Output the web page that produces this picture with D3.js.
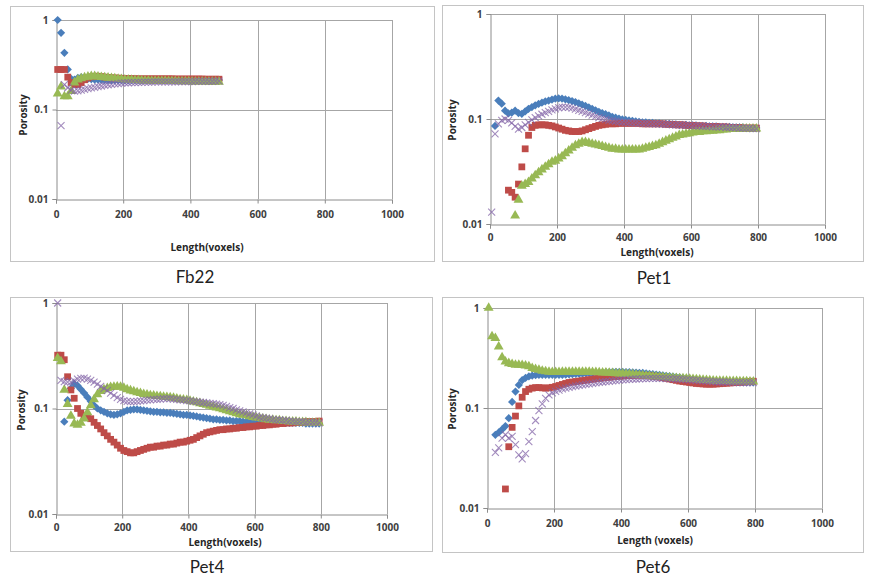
<!DOCTYPE html>
<html lang="en">
<head>
<meta charset="UTF-8">
<title>Porosity vs Length</title>
<style>
    body { margin: 0; background: #fff; font-family: "Open Sans", Arial, sans-serif; }
    .tick text { font-size: 10px; font-weight: bold; fill: #404040; font-family: "Open Sans", Arial, sans-serif; }
    .axis-title { font-size: 10px; font-weight: bold; fill: #262626; }
    .panel-title { font-size: 17px; fill: #222; font-family: Lato, "Open Sans", sans-serif; }
</style>
</head>
<body>
<svg id="chart" width="871" height="581"></svg>
<script src="https://d3js.org/d3.v7.min.js"></script>
<script>
// ---- data ----
var xTicks = [0, 200, 400, 600, 800, 1000];
var yTicks = [0.01, 0.1, 1];

var lengths = [5, 15, 25, 35, 45, 55, 65, 75, 85, 95,
    105, 115, 125, 135, 145, 155, 165, 175, 185, 195,
    205, 215, 225, 235, 245, 255, 265, 275, 285, 295,
    305, 315, 325, 335, 345, 355, 365, 375, 385, 395,
    405, 415, 425, 435, 445, 455, 465, 475, 485, 495,
    505, 515, 525, 535, 545, 555, 565, 575, 585, 595,
    605, 615, 625, 635, 645, 655, 665, 675, 685, 695,
    705, 715, 725, 735, 745, 755, 765, 775, 785, 795];
var lengthsFb22 = lengths.slice(0, 49);

// Fb22
var fb22S1 = [1.0, 0.72, 0.43, 0.28, 0.22, 0.215, 0.225, 0.23, 0.225, 0.22,
    0.218, 0.216, 0.215, 0.214, 0.213, 0.213, 0.212, 0.212, 0.212, 0.212,
    0.212, 0.212, 0.213, 0.213, 0.213, 0.213, 0.213, 0.213, 0.213, 0.213,
    0.213, 0.213, 0.213, 0.213, 0.213, 0.213, 0.213, 0.213, 0.213, 0.213,
    0.213, 0.213, 0.213, 0.213, 0.213, 0.213, 0.213, 0.213, 0.213];
var fb22S2 = [0.28, 0.28, 0.28, 0.23, 0.2, 0.19, 0.19, 0.2, 0.215, 0.225,
    0.232, 0.235, 0.235, 0.233, 0.23, 0.228, 0.226, 0.225, 0.224, 0.223,
    0.222, 0.222, 0.221, 0.221, 0.22, 0.22, 0.22, 0.22, 0.22, 0.22,
    0.22, 0.22, 0.22, 0.22, 0.22, 0.219, 0.219, 0.219, 0.219, 0.219,
    0.219, 0.219, 0.219, 0.219, 0.218, 0.218, 0.218, 0.218, 0.218];
var fb22S3 = [0.15, 0.18, 0.14, 0.14, 0.16, 0.2, 0.215, 0.222, 0.228, 0.232,
    0.235, 0.235, 0.233, 0.23, 0.228, 0.226, 0.224, 0.222, 0.22, 0.218,
    0.216, 0.215, 0.214, 0.213, 0.212, 0.211, 0.21, 0.21, 0.209, 0.209,
    0.208, 0.208, 0.208, 0.207, 0.207, 0.207, 0.206, 0.206, 0.206, 0.206,
    0.205, 0.205, 0.205, 0.205, 0.205, 0.204, 0.204, 0.204, 0.204];
var fb22S4 = [null, 0.066, 0.19, 0.175, 0.165, 0.16, 0.162, 0.165, 0.168, 0.171,
    0.174, 0.177, 0.18, 0.183, 0.186, 0.189, 0.191, 0.193, 0.195, 0.197,
    0.198, 0.199, 0.2, 0.2, 0.201, 0.201, 0.202, 0.202, 0.202, 0.203,
    0.203, 0.203, 0.204, 0.204, 0.204, 0.204, 0.205, 0.205, 0.205, 0.205,
    0.205, 0.206, 0.206, 0.206, 0.206, 0.206, 0.206, 0.207, 0.207];

// Pet1
var pet1S1 = [null, 0.086, 0.15, 0.14, 0.12, 0.113, 0.115, 0.12, 0.114, 0.112,
    0.118, 0.125, 0.13, 0.135, 0.139, 0.143, 0.147, 0.15, 0.153, 0.156,
    0.157, 0.156, 0.154, 0.151, 0.148, 0.145, 0.141, 0.137, 0.133, 0.129,
    0.125, 0.121, 0.117, 0.114, 0.111, 0.108, 0.105, 0.103, 0.101, 0.099,
    0.098, 0.097, 0.096, 0.095, 0.094, 0.093, 0.093, 0.092, 0.092, 0.091,
    0.091, 0.09, 0.09, 0.09, 0.089, 0.089, 0.088, 0.088, 0.088, 0.087,
    0.087, 0.087, 0.086, 0.086, 0.086, 0.085, 0.085, 0.085, 0.084, 0.084,
    0.084, 0.084, 0.083, 0.083, 0.083, 0.083, 0.082, 0.082, 0.082, 0.082];
var pet1S2 = [null, null, null, null, null, 0.021, 0.02, 0.018, 0.024, 0.035,
    0.052, 0.07, 0.083, 0.087, 0.088, 0.088, 0.088, 0.087, 0.086, 0.084,
    0.082, 0.08, 0.078, 0.077, 0.076, 0.076, 0.076, 0.077, 0.079, 0.081,
    0.083, 0.085, 0.087, 0.088, 0.089, 0.09, 0.09, 0.09, 0.091, 0.091,
    0.091, 0.091, 0.091, 0.091, 0.091, 0.09, 0.09, 0.09, 0.09, 0.09,
    0.09, 0.09, 0.089, 0.089, 0.089, 0.088, 0.088, 0.088, 0.087, 0.087,
    0.087, 0.086, 0.086, 0.086, 0.085, 0.085, 0.085, 0.085, 0.084, 0.084,
    0.084, 0.083, 0.083, 0.083, 0.083, 0.082, 0.082, 0.082, 0.082, 0.082];
var pet1S3 = [null, null, null, null, null, null, null, 0.012, 0.017, 0.023,
    0.024, 0.025, 0.027, 0.029, 0.031, 0.033, 0.035, 0.037, 0.039, 0.04,
    0.042, 0.044, 0.047, 0.05, 0.053, 0.056, 0.058, 0.06, 0.06, 0.059,
    0.058, 0.057, 0.056, 0.055, 0.054, 0.053, 0.052, 0.052, 0.051, 0.051,
    0.051, 0.051, 0.051, 0.051, 0.051, 0.052, 0.053, 0.054, 0.055, 0.056,
    0.058, 0.06, 0.062, 0.064, 0.066, 0.068, 0.07, 0.071, 0.072, 0.073,
    0.074, 0.075, 0.075, 0.076, 0.076, 0.077, 0.077, 0.078, 0.078, 0.079,
    0.079, 0.08, 0.08, 0.08, 0.08, 0.081, 0.081, 0.081, 0.081, 0.081];
var pet1S4 = [0.013, 0.072, 0.09, 0.097, 0.1, 0.097, 0.092, 0.085, 0.08, 0.083,
    0.088, 0.093, 0.098, 0.103, 0.107, 0.111, 0.115, 0.118, 0.122, 0.125,
    0.128, 0.13, 0.13, 0.129, 0.127, 0.124, 0.121, 0.118, 0.115, 0.112,
    0.109, 0.106, 0.103, 0.101, 0.099, 0.097, 0.096, 0.095, 0.094, 0.093,
    0.093, 0.092, 0.092, 0.092, 0.091, 0.091, 0.091, 0.09, 0.09, 0.09,
    0.09, 0.089, 0.089, 0.089, 0.088, 0.088, 0.088, 0.087, 0.087, 0.087,
    0.086, 0.086, 0.086, 0.085, 0.085, 0.085, 0.084, 0.084, 0.084, 0.084,
    0.083, 0.083, 0.083, 0.083, 0.082, 0.082, 0.082, 0.082, 0.081, 0.081];

// Pet4
var pet4S1 = [null, null, 0.075, 0.12, 0.155, 0.172, 0.165, 0.152, 0.14, 0.128,
    0.117, 0.107, 0.1, 0.096, 0.093, 0.09, 0.088, 0.087, 0.088, 0.09,
    0.093, 0.096, 0.097, 0.098, 0.098, 0.097, 0.096, 0.095, 0.094, 0.093,
    0.093, 0.092, 0.092, 0.091, 0.091, 0.09, 0.089, 0.088, 0.087, 0.087,
    0.086, 0.085, 0.084, 0.083, 0.082, 0.081, 0.08, 0.079, 0.079, 0.078,
    0.078, 0.077, 0.077, 0.076, 0.076, 0.076, 0.075, 0.075, 0.075, 0.075,
    0.074, 0.074, 0.074, 0.074, 0.074, 0.074, 0.073, 0.073, 0.073, 0.073,
    0.073, 0.073, 0.073, 0.073, 0.073, 0.072, 0.072, 0.072, 0.072, 0.072];
var pet4S2 = [0.32, 0.32, 0.29, 0.2, 0.15, 0.125, 0.1, 0.09, 0.085, 0.083,
    0.08, 0.074, 0.069, 0.064, 0.059, 0.055, 0.051, 0.048, 0.045, 0.042,
    0.04, 0.039, 0.038, 0.038, 0.039, 0.04, 0.041, 0.042, 0.043, 0.043,
    0.044, 0.044, 0.045, 0.045, 0.046, 0.046, 0.047, 0.048, 0.048, 0.049,
    0.05, 0.051, 0.053, 0.055, 0.057, 0.059, 0.06, 0.061, 0.062, 0.063,
    0.063, 0.064, 0.064, 0.065, 0.065, 0.066, 0.066, 0.067, 0.067, 0.068,
    0.068, 0.069, 0.069, 0.07, 0.07, 0.071, 0.071, 0.072, 0.072, 0.073,
    0.073, 0.073, 0.074, 0.074, 0.074, 0.075, 0.075, 0.075, 0.075, 0.076];
var pet4S3 = [0.3, 0.28, 0.15, 0.11, 0.085, 0.072, 0.07, 0.073, 0.08, 0.092,
    0.107, 0.122, 0.136, 0.146, 0.152, 0.156, 0.159, 0.16, 0.161, 0.16,
    0.157, 0.152, 0.148, 0.145, 0.142, 0.14, 0.137, 0.135, 0.133, 0.132,
    0.131, 0.13, 0.129, 0.128, 0.127, 0.126, 0.124, 0.122, 0.121, 0.12,
    0.118, 0.116, 0.114, 0.112, 0.11, 0.108, 0.106, 0.104, 0.102, 0.1,
    0.098, 0.096, 0.094, 0.092, 0.09, 0.088, 0.087, 0.086, 0.084, 0.083,
    0.082, 0.081, 0.08, 0.079, 0.078, 0.078, 0.077, 0.077, 0.076, 0.076,
    0.075, 0.075, 0.075, 0.074, 0.074, 0.074, 0.073, 0.073, 0.073, 0.073];
var pet4S4 = [1.0, 0.185, 0.18, 0.178, 0.178, 0.183, 0.19, 0.193, 0.194, 0.19,
    0.185, 0.178, 0.17, 0.162, 0.155, 0.148, 0.14, 0.133, 0.127, 0.122,
    0.119, 0.117, 0.116, 0.116, 0.117, 0.118, 0.119, 0.12, 0.121, 0.122,
    0.122, 0.123, 0.124, 0.124, 0.124, 0.123, 0.122, 0.121, 0.12, 0.119,
    0.118, 0.117, 0.116, 0.115, 0.114, 0.113, 0.112, 0.111, 0.11, 0.109,
    0.107, 0.105, 0.102, 0.1, 0.097, 0.095, 0.093, 0.091, 0.089, 0.087,
    0.085, 0.083, 0.082, 0.081, 0.08, 0.079, 0.078, 0.078, 0.077, 0.077,
    0.076, 0.076, 0.075, 0.075, 0.075, 0.074, 0.074, 0.074, 0.074, 0.073];

// Pet6
var pet6S1 = [null, null, 0.054, 0.057, 0.061, 0.066, 0.079, 0.115, 0.146, 0.17,
    0.19, 0.2, 0.207, 0.211, 0.213, 0.214, 0.215, 0.215, 0.215, 0.215,
    0.215, 0.215, 0.215, 0.216, 0.217, 0.218, 0.219, 0.22, 0.221, 0.222,
    0.223, 0.224, 0.225, 0.226, 0.227, 0.228, 0.229, 0.23, 0.23, 0.23,
    0.23, 0.229, 0.228, 0.227, 0.226, 0.225, 0.224, 0.222, 0.22, 0.218,
    0.216, 0.214, 0.212, 0.21, 0.208, 0.206, 0.204, 0.202, 0.2, 0.198,
    0.196, 0.194, 0.192, 0.19, 0.188, 0.187, 0.186, 0.185, 0.184, 0.183,
    0.182, 0.182, 0.181, 0.181, 0.18, 0.18, 0.18, 0.18, 0.18, 0.18];
var pet6S2 = [null, null, null, null, null, 0.0155, 0.041, 0.064, 0.083, 0.105,
    0.128, 0.146, 0.154, 0.158, 0.16, 0.16, 0.159, 0.158, 0.159, 0.161,
    0.164, 0.168, 0.172, 0.176, 0.18, 0.182, 0.184, 0.186, 0.188, 0.19,
    0.192, 0.194, 0.196, 0.198, 0.2, 0.201, 0.203, 0.205, 0.206, 0.208,
    0.209, 0.21, 0.211, 0.212, 0.213, 0.213, 0.212, 0.211, 0.21, 0.208,
    0.206, 0.204, 0.201, 0.198, 0.195, 0.192, 0.189, 0.186, 0.184, 0.182,
    0.18, 0.178, 0.176, 0.175, 0.174, 0.173, 0.173, 0.173, 0.174, 0.175,
    0.176, 0.177, 0.178, 0.179, 0.18, 0.181, 0.182, 0.183, 0.184, 0.185];
var pet6S3 = [1.0, 0.52, 0.5, 0.41, 0.32, 0.29, 0.28, 0.275, 0.27, 0.27,
    0.268, 0.265, 0.26, 0.25, 0.245, 0.24, 0.235, 0.232, 0.23, 0.228,
    0.228, 0.228, 0.229, 0.23, 0.23, 0.23, 0.23, 0.23, 0.23, 0.229,
    0.229, 0.228, 0.228, 0.227, 0.226, 0.225, 0.224, 0.223, 0.222, 0.221,
    0.22, 0.219, 0.218, 0.216, 0.215, 0.213, 0.212, 0.21, 0.209, 0.207,
    0.206, 0.205, 0.203, 0.202, 0.201, 0.2, 0.199, 0.198, 0.197, 0.196,
    0.195, 0.194, 0.193, 0.192, 0.191, 0.19, 0.189, 0.188, 0.187, 0.187,
    0.186, 0.186, 0.185, 0.185, 0.185, 0.184, 0.184, 0.184, 0.183, 0.183];
var pet6S4 = [null, null, 0.036, 0.04, 0.05, 0.054, 0.05, 0.052, 0.043, 0.034,
    0.031, 0.035, 0.046, 0.058, 0.075, 0.094, 0.11, 0.125, 0.135, 0.142,
    0.147, 0.151, 0.155, 0.158, 0.161, 0.164, 0.166, 0.168, 0.17, 0.172,
    0.174, 0.176, 0.178, 0.18, 0.182, 0.184, 0.185, 0.187, 0.188, 0.19,
    0.191, 0.192, 0.193, 0.194, 0.195, 0.196, 0.197, 0.197, 0.198, 0.198,
    0.198, 0.198, 0.198, 0.197, 0.197, 0.196, 0.195, 0.194, 0.193, 0.192,
    0.191, 0.19, 0.189, 0.188, 0.187, 0.186, 0.185, 0.184, 0.183, 0.182,
    0.182, 0.181, 0.181, 0.18, 0.18, 0.18, 0.179, 0.179, 0.179, 0.179];

// ---- layout ----
var panels = [
    { title: "Fb22", xs: lengthsFb22, series: [fb22S1, fb22S2, fb22S3, fb22S4],
      frame: [10, 6, 434, 261], plot: [56, 20, 392, 199], tickPad: 7,
      xTitle: "Length(voxels)", xTitlePos: [207, 247], yTitlePos: [23, 115], titlePos: [195, 277] },
    { title: "Pet1", xs: lengths, series: [pet1S1, pet1S2, pet1S3, pet1S4],
      frame: [442, 5, 863, 261], plot: [490, 14, 825, 224], tickPad: 5,
      xTitle: "Length(voxels)", xTitlePos: [657, 252], yTitlePos: [452, 120], titlePos: [654, 278] },
    { title: "Pet4", xs: lengths, series: [pet4S1, pet4S2, pet4S3, pet4S4],
      frame: [10, 297, 432, 551], plot: [56, 303, 387, 514], tickPad: 5,
      xTitle: "Length(voxels)", xTitlePos: [225, 542], yTitlePos: [21, 410], titlePos: [207, 567] },
    { title: "Pet6", xs: lengths, series: [pet6S1, pet6S2, pet6S3, pet6S4],
      frame: [442, 297, 863, 552], plot: [487, 308, 822, 508], tickPad: 7,
      xTitle: "Length (voxels)", xTitlePos: [655, 540], yTitlePos: [452, 409], titlePos: [653, 567] }
];

var colors = ["#4a7ebb", "#be4b48", "#98b954", "#8466a8"];
var diamond = d3.symbol(d3.symbolSquare, 34)();
var square = d3.symbol(d3.symbolSquare, 46)();
var triangle = d3.symbol(d3.symbolTriangle, 42)();
var cross = "M-3.5,-3.5L3.5,3.5M-3.5,3.5L3.5,-3.5";

var svg = d3.select("#chart");

panels.forEach(function (p) {
    var g = svg.append("g");
    var f = p.frame, pl = p.plot;

    g.append("rect")
        .attr("x", f[0] + 0.5).attr("y", f[1] + 0.5)
        .attr("width", f[2] - f[0]).attr("height", f[3] - f[1])
        .attr("fill", "#fff").attr("stroke", "#c4c4c4");

    var x = d3.scaleLinear().domain([0, 1000]).range([pl[0], pl[2]]);
    var y = d3.scaleLog().domain([0.01, 1]).range([pl[3], pl[1]]);

    // gridlines
    g.selectAll(".vgrid").data(xTicks.slice(1)).enter().append("line")
        .attr("x1", d => Math.round(x(d)) + 0.5).attr("x2", d => Math.round(x(d)) + 0.5)
        .attr("y1", pl[1]).attr("y2", pl[3])
        .attr("stroke", "#a6a6a6");
    g.selectAll(".hgrid").data(yTicks.slice(1)).enter().append("line")
        .attr("x1", pl[0]).attr("x2", pl[2])
        .attr("y1", d => Math.round(y(d)) + 0.5).attr("y2", d => Math.round(y(d)) + 0.5)
        .attr("stroke", "#a6a6a6");

    var xAxis = g.append("g")
        .attr("transform", "translate(0," + (Math.round(pl[3]) + 0.5) + ")")
        .call(d3.axisBottom(x).tickValues(xTicks).tickSize(4).tickPadding(p.tickPad).tickFormat(d3.format("d")));
    var yAxis = g.append("g")
        .attr("transform", "translate(" + (Math.round(pl[0]) + 0.5) + ",0)")
        .call(d3.axisLeft(y).tickValues(yTicks).tickSize(4).tickPadding(4).tickFormat(d => String(d)));
    [xAxis, yAxis].forEach(function (a) {
        a.select(".domain").attr("stroke", "#8c8c8c");
        a.selectAll(".tick line").attr("stroke", "#8c8c8c");
    });

    // markers
    var shapes = [diamond, square, triangle, cross];
    p.series.forEach(function (vals, si) {
        var pts = p.xs.map((v, i) => [v, vals[i]]).filter(d => d[1] != null);
        var m = g.append("g").selectAll("path").data(pts).enter().append("path")
            .attr("d", shapes[si])
            .attr("transform", function (d) {
                var t = "translate(" + x(d[0]) + "," + y(d[1]) + ")";
                return si === 0 ? t + " rotate(45)" : t;
            });
        if (si === 3) {
            m.attr("fill", "none").attr("stroke", colors[si]).attr("stroke-width", 1.1).attr("stroke-opacity", 0.75);
        } else {
            m.attr("fill", colors[si]);
        }
    });

    g.append("text").attr("class", "axis-title")
        .attr("x", p.xTitlePos[0]).attr("y", p.xTitlePos[1]).attr("dy", "0.35em")
        .attr("text-anchor", "middle").text(p.xTitle);
    g.append("text").attr("class", "axis-title")
        .attr("transform", "translate(" + p.yTitlePos[0] + "," + p.yTitlePos[1] + ") rotate(-90)")
        .attr("dy", "0.35em").attr("text-anchor", "middle").text("Porosity");
    g.append("text").attr("class", "panel-title")
        .attr("x", p.titlePos[0]).attr("y", p.titlePos[1]).attr("dy", "0.35em")
        .attr("text-anchor", "middle").text(p.title);
});
</script>
</body>
</html>
